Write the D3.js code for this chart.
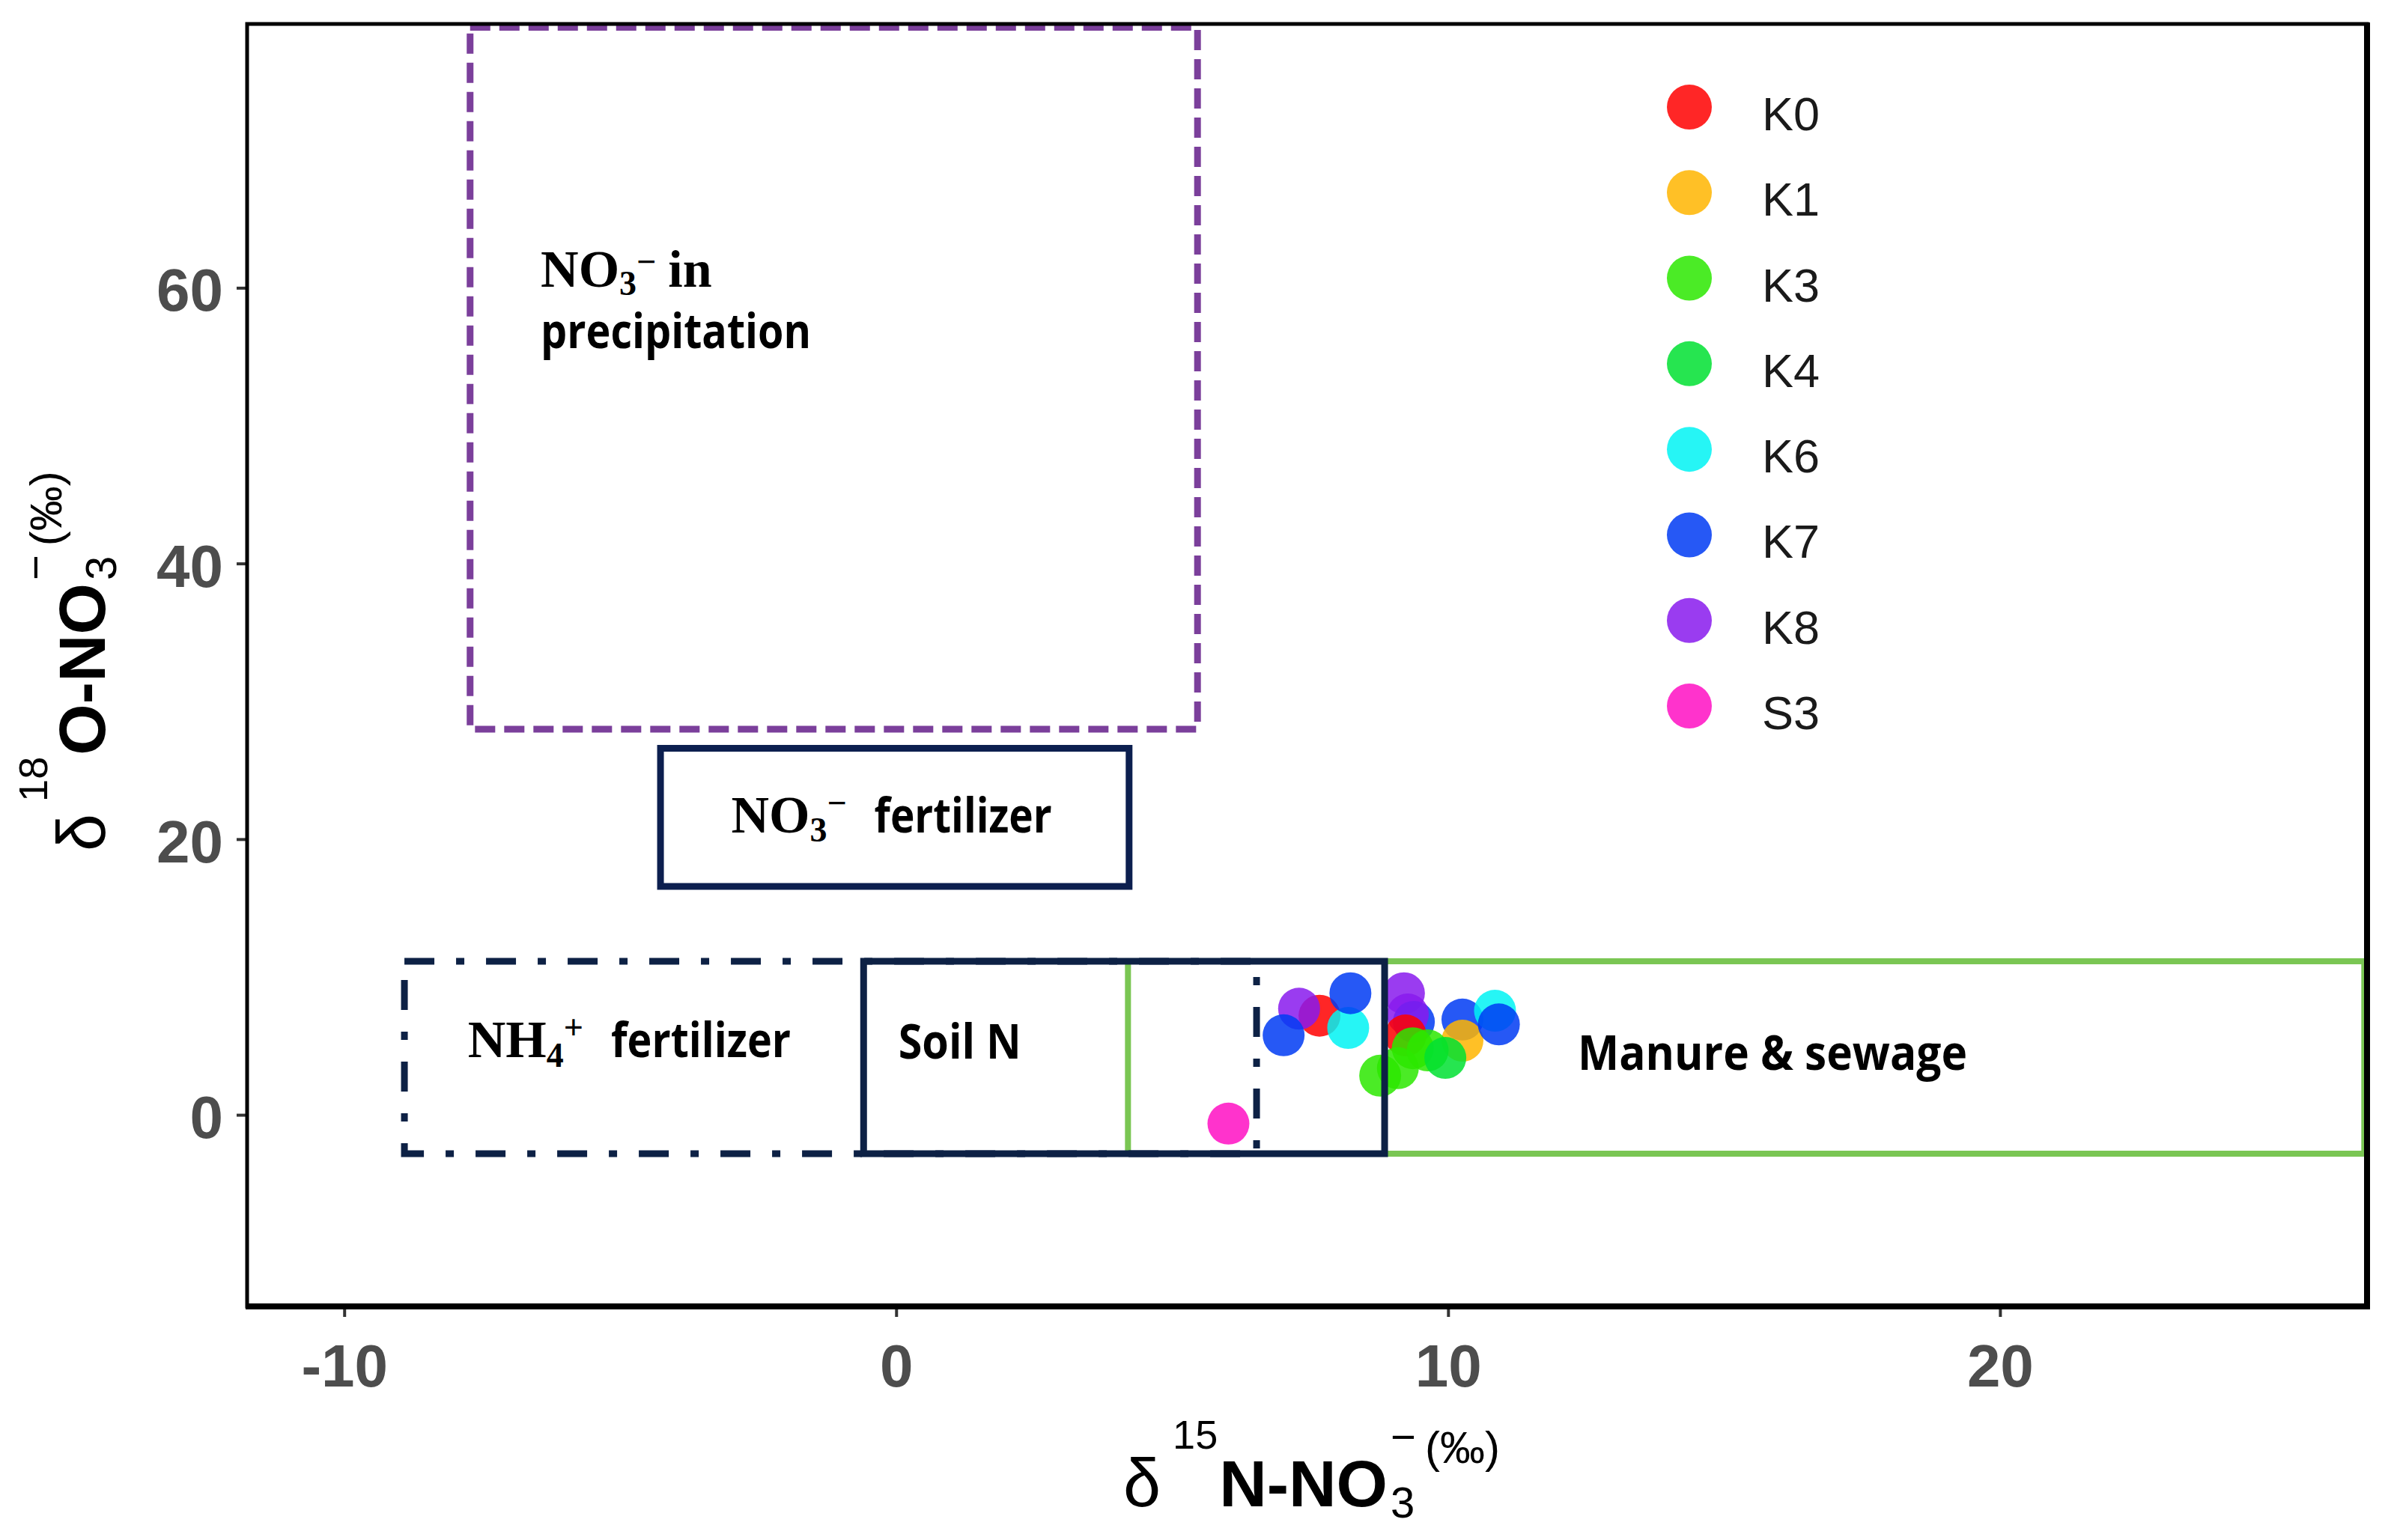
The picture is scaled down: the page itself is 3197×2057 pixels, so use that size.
<!DOCTYPE html>
<html><head><meta charset="utf-8">
<script src="https://cdn.jsdelivr.net/npm/d3@7"></script>
<style>body{margin:0;background:#fff} svg{display:block}</style>
</head><body>
<svg id="c" width="3197" height="2057"></svg>
<script>
// ---------- data ----------
const series = ["K0","K1","K3","K4","K6","K7","K8","S3"];
const seriesColors = ["#ff0000","#ffb500","#2ce700","#00e131","#00f3f3","#003bf3","#881aed","#ff0fc3"];

// points, in drawing order (δ15N, δ18O)
const pointSeries = ["K7","K8","K7","K8","K0","K1","K6","K7","K3","K3","K3","K3","K4","K0","K8","K7","K6","K7","S3"];
const pointX =      [10.26,9.20,9.38,9.27,9.23,10.26,10.85,10.92,9.36,9.09,8.77,9.63,9.95,7.67,7.30,7.02,8.19,8.23,6.02];
const pointY =      [6.91,8.82,6.74,7.28,5.76,5.38,7.55,6.56,4.83,3.38,2.84,4.67,4.13,7.19,7.70,5.77,6.30,8.82,-0.64];

const xTicks = [-10,0,10,20];
const yTicks = [0,20,40,60];

// source boxes
const boxNames = ["Manure & sewage","NH4+ fertilizer","Soil N","NO3- fertilizer","NO3- in precipitation"];
const boxX0 = [4.20,-8.91,-0.59,-4.27,-7.72];
const boxX1 = [26.60,6.53,8.85,4.22,5.46];
const boxY0 = [-2.82,-2.82,-2.82,16.57,27.97];
const boxY1 = [11.14,11.14,11.14,26.59,78.90];

// ---------- styles ----------
const boxStyle = {
  "Manure & sewage":      {stroke:"#7ac653", w:8, dash:null},
  "NH4+ fertilizer":      {stroke:"#0d2145", w:9, dash:"40 29 11 29"},
  "Soil N":               {stroke:"#0d2145", w:9, dash:null},
  "NO3- fertilizer":      {stroke:"#0c1f4f", w:9, dash:null},
  "NO3- in precipitation":{stroke:"#7b3f9b", w:9, dash:"27 12"}
};
const SERIF = "'Liberation Serif','Times New Roman',serif";
const SANS = "'Liberation Sans',Arial,sans-serif";
const LAB = "'Open Sans','Noto Sans',sans-serif";

const svg = d3.select("#c");
const L=330, R=3161, T=32, B=1745;
const x = d3.scaleLinear().domain([-11.76, 26.65]).range([L, R]);
const y = d3.scaleLinear().domain([-13.9, 79.14]).range([B, T]);
const color = d3.scaleOrdinal().domain(series).range(seriesColors);

svg.append("rect").attr("width",3197).attr("height",2057).attr("fill","#fff");

// ---------- points ----------
const pts = pointSeries.map((s,i)=>({s, x:pointX[i], y:pointY[i]}));
svg.append("g").selectAll("circle").data(pts).join("circle")
  .attr("cx",d=>x(d.x)).attr("cy",d=>y(d.y)).attr("r",28)
  .attr("fill",d=>color(d.s)).attr("fill-opacity",0.85);

// ---------- boxes ----------
const boxes = boxNames.map((n,i)=>({n, x0:boxX0[i], x1:boxX1[i], y0:boxY0[i], y1:boxY1[i]}));
svg.append("g").selectAll("rect").data(boxes).join("rect")
  .attr("x",d=>x(d.x0)).attr("y",d=>y(d.y1))
  .attr("width",d=>x(d.x1)-x(d.x0)).attr("height",d=>y(d.y0)-y(d.y1))
  .attr("fill","none")
  .attr("stroke",d=>boxStyle[d.n].stroke)
  .attr("stroke-width",d=>boxStyle[d.n].w)
  .attr("stroke-dasharray",d=>boxStyle[d.n].dash);

// ---------- rich text helper ----------
function rich(g, parts, x0, y0){
  let cx = x0, lastStart = x0, maxEnd = x0;
  parts.forEach(p=>{
    const start = p.stack ? lastStart : maxEnd + (p.gap||0);
    const t = g.append("text").attr("x",start).attr("y",y0+(p.dy||0))
      .attr("font-family",p.f).attr("font-size",p.s).attr("font-weight",p.b?"bold":"normal")
      .attr("fill",p.c||"#000").text(p.t);
    if(p.len){ t.attr("textLength",p.len).attr("lengthAdjust","spacingAndGlyphs"); }
    const w = p.len || t.node().getComputedTextLength();
    lastStart = start;
    maxEnd = Math.max(maxEnd, start + w);
  });
}

// ---------- annotations ----------
const ga = svg.append("g");
rich(ga,[{t:"NO",f:SERIF,s:70,b:1},{t:"3",f:SERIF,s:46,b:1,dy:11},{t:"\u2212",f:SERIF,s:46,b:1,dy:-18},{t:"in",f:SERIF,s:70,b:1,gap:16}], x(-6.44), y(60.1));
rich(ga,[{t:"precipitation",f:LAB,s:64,b:1,len:361}], x(-6.44), y(55.6));
rich(ga,[{t:"NO",f:SERIF,s:70,b:1},{t:"3",f:SERIF,s:46,b:1,dy:12},{t:"\u2212",f:SERIF,s:46,b:1,dy:-24},{t:"fertilizer",f:LAB,s:64,b:1,gap:37,len:237}], x(-2.99), y(20.5));
rich(ga,[{t:"NH",f:SERIF,s:70,b:1},{t:"4",f:SERIF,s:46,b:1,dy:13},{t:"+",f:SERIF,s:46,b:1,dy:-24},{t:"fertilizer",f:LAB,s:64,b:1,gap:37,len:240}], x(-7.76), y(4.18));
rich(ga,[{t:"Soil N",f:LAB,s:64,b:1,len:164}], x(0.04), y(4.07));
rich(ga,[{t:"Manure & sewage",f:LAB,s:64,b:1,len:520}], x(12.35), y(3.26));

// ---------- axes ----------
const ax = svg.append("g").attr("transform",`translate(0,${B})`)
  .call(d3.axisBottom(x).tickValues(xTicks).tickFormat(d=>String(d)).tickSize(14).tickPadding(36));
const ay = svg.append("g").attr("transform",`translate(${L},0)`)
  .call(d3.axisLeft(y).tickValues(yTicks).tickFormat(d=>String(d)).tickSize(14).tickPadding(18));
[ax,ay].forEach(a=>{
  a.select(".domain").remove();
  a.selectAll(".tick line").attr("stroke","#333").attr("stroke-width",4);
  a.selectAll(".tick text").attr("font-family",SANS).attr("font-size",80).attr("font-weight","bold").attr("fill","#4d4d4d");
});
ay.selectAll(".tick text").attr("dy","0.38em");

// panel border
svg.append("rect").attr("x",L).attr("y",T).attr("width",R-L).attr("height",B-T)
  .attr("fill","none").attr("stroke","#000").attr("stroke-width",5);
svg.append("line").attr("x1",L-2).attr("x2",R+4).attr("y1",B).attr("y2",B).attr("stroke","#000").attr("stroke-width",8);
svg.append("line").attr("x1",R).attr("x2",R).attr("y1",T-2).attr("y2",B).attr("stroke","#000").attr("stroke-width",8);

// ---------- axis titles ----------
function titleParts(iso, el){
  return [
    {t:"\u03b4",f:SANS,s:90},
    {t:iso,f:SANS,s:54,dy:-77,gap:16},
    {t:el+"-NO",f:SANS,s:88,b:1,gap:2},
    {t:"3",f:SANS,s:58,dy:15,gap:4},
    {t:"\u2212",f:SANS,s:58,dy:-73,stack:true},
    {t:"(\u2030)",f:SANS,s:60,dy:-58,gap:12}
  ];
}
rich(svg.append("g"), titleParts("15","N"), 1500, 2012);
const gy = svg.append("g").attr("transform","translate(140,1137) rotate(-90)");
rich(gy, titleParts("18","O"), 0, 0);

// ---------- legend ----------
const ly = d3.scalePoint().domain(series).range([143, 943]);
const lg = svg.append("g");
lg.selectAll("circle").data(series).join("circle")
  .attr("cx",2256).attr("cy",d=>ly(d)).attr("r",30)
  .attr("fill",d=>color(d)).attr("fill-opacity",0.85);
lg.selectAll("text").data(series).join("text")
  .attr("x",2353).attr("y",d=>ly(d)+31)
  .attr("font-family",SANS).attr("font-size",63).attr("fill","#1a1a1a").text(d=>d);
</script>
</body></html>
